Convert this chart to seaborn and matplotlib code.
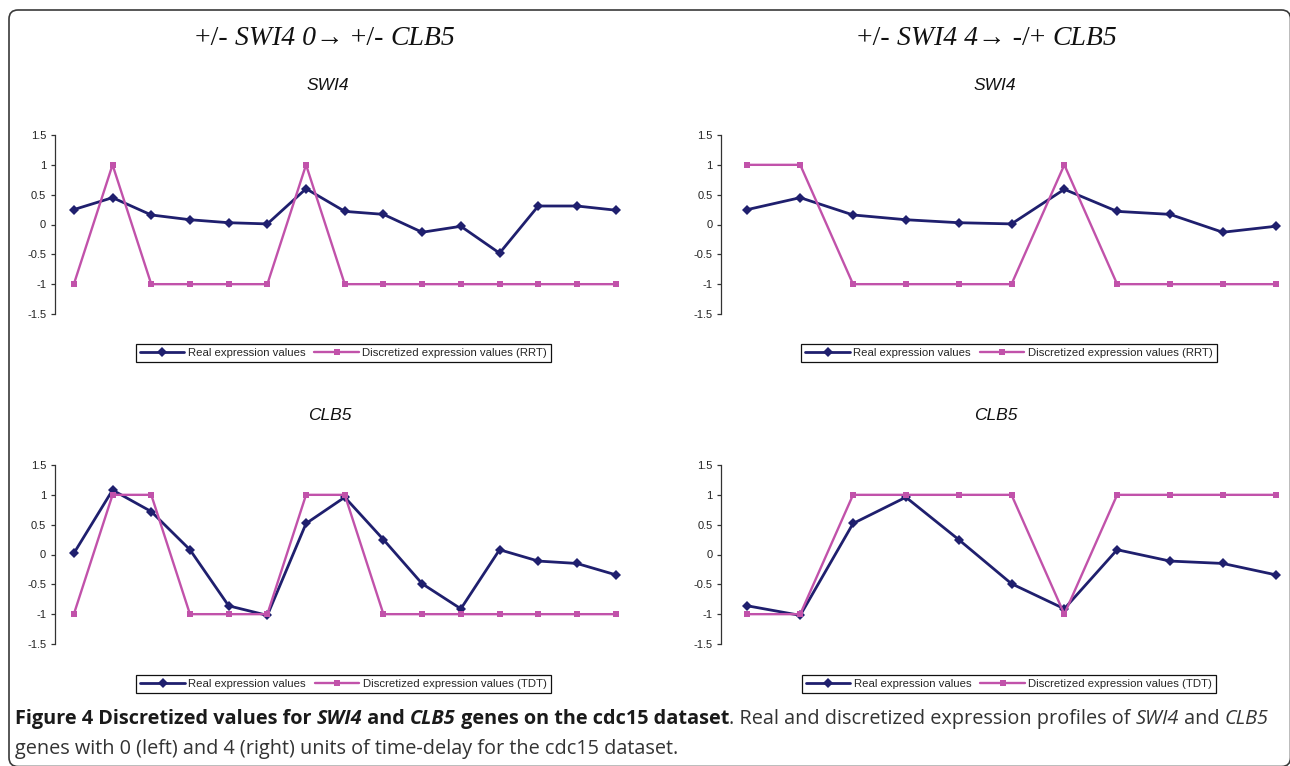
import numpy as np
import pandas as pd
import matplotlib
matplotlib.use("Agg")
import matplotlib.pyplot as plt
import seaborn as sns
from matplotlib import font_manager as fm
from matplotlib.patches import FancyBboxPatch
from matplotlib.transforms import IdentityTransform

# ---- data -------------------------------------------------------------
# delay 0 (left column): 15 time points
swi4_real_d0 = [0.25, 0.45, 0.16, 0.08, 0.03, 0.01, 0.60, 0.22, 0.17, -0.13, -0.03, -0.48, 0.31, 0.31, 0.24]
swi4_rrt_d0 = [-1, 1, -1, -1, -1, -1, 1, -1, -1, -1, -1, -1, -1, -1, -1]
clb5_real_d0 = [0.02, 1.08, 0.72, 0.08, -0.86, -1.02, 0.52, 0.96, 0.25, -0.49, -0.91, 0.08, -0.11, -0.15, -0.34]
clb5_tdt_d0 = [-1, 1, 1, -1, -1, -1, 1, 1, -1, -1, -1, -1, -1, -1, -1]

# delay 4 (right column): 11 aligned time points
swi4_real_d4 = [0.25, 0.45, 0.16, 0.08, 0.03, 0.01, 0.59, 0.22, 0.17, -0.13, -0.03]
swi4_rrt_d4 = [1, 1, -1, -1, -1, -1, 1, -1, -1, -1, -1]
clb5_real_d4 = [-0.86, -1.02, 0.52, 0.96, 0.25, -0.49, -0.91, 0.08, -0.11, -0.15, -0.34]
clb5_tdt_d4 = [-1, -1, 1, 1, 1, 1, -1, 1, 1, 1, 1]

y_ticks = [-1.5, -1, -0.5, 0, 0.5, 1, 1.5]
y_tick_labels = ["-1.5", "-1", "-0.5", "0", "0.5", "1", "1.5"]

REAL = "Real expression values"
RRT = "Discretized expression values (RRT)"
TDT = "Discretized expression values (TDT)"

# ---- styling ----------------------------------------------------------
sns.set_theme(style="white")


def has_font(name):
    try:
        fm.findfont(fm.FontProperties(family=name), fallback_to_default=False)
        return True
    except ValueError:
        return False


cap_font = "Open Sans" if has_font("Open Sans") else "DejaVu Sans"
plt.rcParams["font.family"] = ["Liberation Sans", "DejaVu Sans"]

NAVY = "#1f1f6e"
MAGENTA = "#c152aa"

W, H = 1290, 766
fig = plt.figure(figsize=(W / 100, H / 100), dpi=100)
fig.patch.set_facecolor("white")
renderer = fig.canvas.get_renderer()


def px_axes(x0, y_top, x1, y_bot):
    """Axes placed by pixel edges measured from the top-left corner."""
    return fig.add_axes([x0 / W, 1 - y_bot / H, (x1 - x0) / W, (y_bot - y_top) / H])


def text_runs(runs, x_px, baseline_px, ha="left", **common):
    """Write differently styled pieces of text one after another on a baseline."""
    def advance(s, kw):
        probe = fig.text(0, 0, s, **common, **kw)
        w = probe.get_window_extent(renderer).width
        probe.remove()
        return w

    widths = [advance("x" + s + "x", kw) - advance("xx", kw) for s, kw in runs]
    x = x_px - sum(widths) / 2 if ha == "center" else x_px
    for (s, kw), w in zip(runs, widths):
        fig.text(x / W, 1 - baseline_px / H, s, ha="left", va="baseline",
                 **common, **kw)
        x += w


def draw_panel(ax, real, disc, disc_label, legend_cx, legend_cy):
    n = len(real)
    df = pd.DataFrame({
        "t": list(range(n)) * 2,
        "value": list(real) + list(disc),
        "series": [REAL] * n + [disc_label] * n,
    })
    sns.lineplot(data=df, x="t", y="value", hue="series", style="series",
                 palette={REAL: NAVY, disc_label: MAGENTA},
                 markers={REAL: "D", disc_label: "s"}, dashes=False,
                 markersize=4.8, markeredgewidth=0, legend=False, ax=ax)
    lines = ax.get_lines()
    lines[0].set_linewidth(2.0)
    lines[1].set_linewidth(1.7)
    lines[1].set_zorder(3)
    ax.set_xlim(-0.5, n - 0.5)
    ax.set_ylim(-1.5, 1.5)
    ax.set_yticks(y_ticks)
    ax.set_yticklabels(y_tick_labels, fontsize=8, color="#222222")
    ax.set_xticks([])
    ax.set_xlabel("")
    ax.set_ylabel("")
    for side in ("top", "right", "bottom"):
        ax.spines[side].set_visible(False)
    ax.spines["left"].set_color("#333333")
    ax.spines["left"].set_linewidth(0.9)
    ax.tick_params(axis="y", direction="out", length=3, width=0.9,
                   color="#333333", pad=3, left=True)
    ax.patch.set_alpha(0)
    leg = ax.legend(lines, [REAL, disc_label], ncol=2, loc="center",
                    bbox_to_anchor=(legend_cx / W, 1 - legend_cy / H),
                    bbox_transform=fig.transFigure, fontsize=8.2,
                    frameon=True, fancybox=False, framealpha=1,
                    edgecolor="#111111", borderpad=0.35, handlelength=3.9,
                    handletextpad=0.3, columnspacing=0.8, borderaxespad=0)
    leg.get_frame().set_linewidth(0.9)


ax_tl = px_axes(54.5, 135, 635, 314)
ax_tr = px_axes(721, 135, 1302, 314)
ax_bl = px_axes(54.5, 465, 635, 644)
ax_br = px_axes(721, 465, 1302, 644)

draw_panel(ax_tl, swi4_real_d0, swi4_rrt_d0, RRT, 343.5, 353)
draw_panel(ax_tr, swi4_real_d4, swi4_rrt_d4, RRT, 1009, 353)
draw_panel(ax_bl, clb5_real_d0, clb5_tdt_d0, TDT, 343.5, 684)
draw_panel(ax_br, clb5_real_d4, clb5_tdt_d4, TDT, 1009, 684)

# ---- column titles and gene names ------------------------------------
up = dict(style="normal")
it = dict(style="italic")
title_common = dict(fontsize=20, family="Liberation Serif", color="#111111")
text_runs([("+/- ", up), ("SWI4 0", it), ("→ +/- ", up), ("CLB5", it)],
          325, 45, ha="center", **title_common)
text_runs([("+/- ", up), ("SWI4 4", it), ("→ -/+ ", up), ("CLB5", it)],
          987, 45, ha="center", **title_common)

gene_kw = dict(ha="center", va="center", fontsize=12.5, style="italic",
               family="Liberation Sans", color="#111111")
fig.text(328 / W, 1 - 85 / H, "SWI4", **gene_kw)
fig.text(995 / W, 1 - 85 / H, "SWI4", **gene_kw)
fig.text(330 / W, 1 - 415 / H, "CLB5", **gene_kw)
fig.text(996 / W, 1 - 415 / H, "CLB5", **gene_kw)

# ---- caption ------------------------------------------------------------
bold = dict(weight="bold", style="normal", color="#1a1a1a")
bold_it = dict(weight="bold", style="italic", color="#1a1a1a")
reg = dict(weight="normal", style="normal", color="#333333")
reg_it = dict(weight="normal", style="italic", color="#333333")
cap_common = dict(fontsize=14.3, family=cap_font)
text_runs([("Figure 4 Discretized values for ", bold), ("SWI4", bold_it),
           (" and ", bold), ("CLB5", bold_it),
           (" genes on the cdc15 dataset", bold),
           (". Real and discretized expression profiles of ", reg),
           ("SWI4", reg_it), (" and ", reg), ("CLB5", reg_it)],
          15, 724, **cap_common)
text_runs([("genes with 0 (left) and 4 (right) units of time-delay for the cdc15 dataset.", reg)],
          15, 754, **cap_common)

# ---- rounded outer frame --------------------------------------------------
frame = FancyBboxPatch((9, -0.5), 1290.5 - 9, H - 10 + 0.5,
                       boxstyle="round,pad=0,rounding_size=9",
                       transform=IdentityTransform(), fill=False,
                       edgecolor="#3a3a3a", linewidth=1.2)
fig.patches.append(frame)

fig.savefig("out.png", dpi=100, facecolor="white")
